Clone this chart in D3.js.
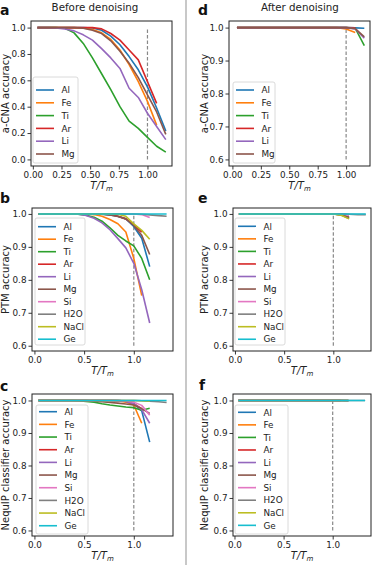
<!DOCTYPE html>
<html><head><meta charset="utf-8">
<script src="https://cdn.jsdelivr.net/npm/d3@7"></script>
<style>body{margin:0;background:#fff} svg{display:block}</style>
</head><body><svg id="c" width="374" height="565"></svg>
<script>
// ---------- data ----------
const T  = [0.04,0.12,0.20,0.28,0.36,0.44,0.52,0.60,0.68,0.76,0.84,0.92,1.00,1.08,1.16];
const TL = [0.04,0.12,0.20,0.28,0.36,0.44,0.52,0.60,0.68,0.76,0.84,0.92,1.00,1.08,1.16,1.25,1.33];
const elems6  = ["Al","Fe","Ti","Ar","Li","Mg"];
const elems10 = ["Al","Fe","Ti","Ar","Li","Mg","Si","H2O","NaCl","Ge"];
const palette = ["#1f77b4","#ff7f0e","#2ca02c","#d62728","#9467bd","#8c564b","#e377c2","#7f7f7f","#bcbd22","#17becf"];
const xTicksFine   = [0,0.25,0.5,0.75,1.0];
const xTicksCoarse = [0,0.5,1.0];
const yTicksFull   = [0,0.2,0.4,0.6,0.8,1.0];
const yTicksZoom   = [0.6,0.7,0.8,0.9,1.0];

// a: a-CNA accuracy, before denoising
const acnaBefore = {
  Al:[1,1,1,1,1,1,0.997,0.98,0.935,0.87,0.78,0.68,0.55,0.39,0.215],
  Fe:[1,1,1,1,1,0.998,0.985,0.96,0.91,0.83,0.72,0.59,0.44,0.26],
  Ti:[1,1,1,0.995,0.96,0.88,0.77,0.65,0.53,0.40,0.29,0.235,0.167,0.10,0.055],
  Ar:[1,1,1,1,1,1,1,0.99,0.955,0.905,0.83,0.755,0.59,0.425],
  Li:[1,1,0.998,0.99,0.975,0.945,0.905,0.84,0.77,0.69,0.54,0.47,0.35,0.25,0.15],
  Mg:[1,1,1,1,1,0.995,0.98,0.955,0.90,0.82,0.73,0.62,0.49,0.36,0.19]
};
// b: PTM accuracy, before denoising
const ptmBefore = {
  Al:[1,1,1,1,1,1,1,1,0.999,0.997,0.993,0.985,0.962,0.926,0.84],
  Fe:[1,1,1,1,1,1,1,0.998,0.993,0.983,0.97,0.945,0.865,0.752],
  Ti:[1,1,1,1,1,0.999,0.996,0.99,0.978,0.958,0.935,0.918,0.903,0.865,0.80],
  Ar:[1,1,1,1,1,1,1,1,1,0.998,0.993,0.985,0.968,0.945],
  Li:[1,1,1,1,1,0.999,0.995,0.987,0.973,0.952,0.925,0.897,0.85,0.77,0.669],
  Mg:[1,1,1,1,1,1,1,1,0.999,0.997,0.992,0.985,0.965,0.935,0.877],
  Si:[1,1,1,1,1,1,1,1,1,1,1,1,1,0.998,0.989],
  H2O:[1,1,1,1,1,1,1,1,1,1,1,1,1,0.999,0.997,0.995,0.993],
  NaCl:[1,1,1,1,1,1,1,1,1,1,0.999,0.993,0.97,0.95,0.923],
  Ge:[1,1,1,1,1,1,1,1,1,1,1,1,1,1,1,1,1]
};
// c: NequIP classifier accuracy, before denoising
const nequipBefore = {
  Al:[1,1,1,1,1,1,1,1,1,1,1,0.998,0.99,0.968,0.872],
  Fe:[1,1,1,1,1,1,1,1,1,1,0.999,0.995,0.986,0.93],
  Ti:[1,1,1,1,1,0.999,0.997,0.995,0.99,0.986,0.983,0.98,0.978,0.97,0.976],
  Ar:[1,1,1,1,1,1,1,1,1,1,1,0.998,0.99,0.975],
  Li:[1,1,1,1,1,1,1,1,1,1,0.999,0.997,0.99,0.972,0.93],
  Mg:[1,1,1,1,1,1,1,0.998,0.996,0.994,0.992,0.989,0.986,0.975,0.96],
  Si:[1,1,1,1,1,1,1,1,1,1,1,0.999,0.995,0.985,0.955],
  H2O:[1,1,1,1,1,1,1,1,1,1,1,1,1,0.999,0.998,0.996,0.994],
  NaCl:[1,1,1,1,1,1,1,1,1,1,1,1,1,0.999,0.998],
  Ge:[1,1,1,1,1,1,1,1,1,1,1,1,1,1,1,1,1]
};
// d: a-CNA accuracy, after denoising
const acnaAfter = {
  Al:[1,1,1,1,1,1,1,1,1,1,1,1,1,0.999,0.998],
  Fe:[1,1,1,1,1,1,1,1,1,1,1,1,0.996,0.985],
  Ti:[1,1,1,1,1,1,1,1,1,1,1,1,1,0.998,0.945],
  Ar:[1,1,1,1,1,1,1,1,1,1,1,1,1,0.999],
  Li:[1,1,1,1,1,1,1,1,1,1,1,1,1,0.996,0.968],
  Mg:[1,1,1,1,1,1,1,1,1,1,1,1,1,0.997,0.972]
};
// e: PTM accuracy, after denoising
const ptmAfter = {
  Al:[1,1,1,1,1,1,1,1,1,1,1,1,1,1,0.998],
  Fe:[1,1,1,1,1,1,1,1,1,1,1,1,1,0.997,0.99],
  Ti:[1,1,1,1,1,1,1,1,1,1,1,1,1,0.998,0.987],
  Ar:[1,1,1,1,1,1,1,1,1,1,1,1,1,0.999],
  Li:[1,1,1,1,1,1,1,1,1,1,1,1,1,0.997,0.986],
  Mg:[1,1,1,1,1,1,1,1,1,1,1,1,1,0.998,0.99],
  Si:[1,1,1,1,1,1,1,1,1,1,1,1,1,1,0.997],
  H2O:[1,1,1,1,1,1,1,1,1,1,1,1,1,1,0.999,0.998,0.998],
  NaCl:[1,1,1,1,1,1,1,1,1,1,1,1,1,0.996,0.985],
  Ge:[1,1,1,1,1,1,1,1,1,1,1,1,1,1,1,1,1]
};
// f: NequIP classifier accuracy, after denoising
const nequipAfter = {
  Al:[1,1,1,1,1,1,1,1,1,1,1,1,1,1,0.999],
  Fe:[1,1,1,1,1,1,1,1,1,1,1,1,1,1],
  Ti:[1,1,1,1,1,1,1,1,1,1,1,1,1,1,1],
  Ar:[1,1,1,1,1,1,1,1,1,1,1,1,1,1],
  Li:[1,1,1,1,1,1,1,1,1,1,1,1,1,1,1],
  Mg:[1,1,1,1,1,1,1,1,1,1,1,1,1,1,1],
  Si:[1,1,1,1,1,1,1,1,1,1,1,1,1,1,1],
  H2O:[1,1,1,1,1,1,1,1,1,1,1,1,1,1,1,1,1],
  NaCl:[1,1,1,1,1,1,1,1,1,1,1,1,1,1,1],
  Ge:[1,1,1,1,1,1,1,1,1,1,1,1,1,1,1,1,1]
};

// ---------- layout ----------
const panels = [
  {id:"a", data:acnaBefore, elems:elems6, box:{l:31,r:172,t:21,b:166}, xd:[-0.016,1.214], yd:[-0.05,1.05],
   xt:xTicksFine, xf:".2f", yt:yTicksFull, ylabel:"a-CNA accuracy", vline:[0,1], ylx:9, lx:0, ly:15,
   lg:{x:33,y:77,w:45,h:86,r0:90,dy:12.8}},
  {id:"b", data:ptmBefore, elems:elems10, box:{l:32,r:173,t:208,b:351}, xd:[-0.0245,1.3945], yd:[0.584,1.018],
   xt:xTicksCoarse, xf:".1f", yt:yTicksZoom, ylabel:"PTM accuracy", vline:[0.6,1], ylx:9, lx:0, ly:203,
   lg:{x:35,y:218,w:50,h:127,r0:226.7,dy:12.5}},
  {id:"c", data:nequipBefore, elems:elems10, box:{l:32,r:173,t:394,b:536}, xd:[-0.0245,1.3945], yd:[0.583,1.02],
   xt:xTicksCoarse, xf:".1f", yt:yTicksZoom, ylabel:"NequIP classifier accuracy", vline:[0.6,1], ylx:9, lx:0, ly:391,
   lg:{x:36,y:405,w:52,h:129,r0:411.7,dy:12.67}},
  {id:"d", data:acnaAfter, elems:elems6, box:{l:229,r:370,t:21,b:166}, xd:[-0.03,1.21], yd:[0.58,1.02],
   xt:xTicksFine, xf:".2f", yt:yTicksZoom, ylabel:"a-CNA accuracy", vline:[0.6,1], ylx:208, lx:198, ly:15,
   lg:{x:233,y:82,w:42,h:81,r0:90,dy:12.8}},
  {id:"e", data:ptmAfter, elems:elems10, box:{l:233,r:371,t:208,b:351}, xd:[-0.02,1.383], yd:[0.584,1.018],
   xt:xTicksCoarse, xf:".1f", yt:yTicksZoom, ylabel:"PTM accuracy", vline:[0.6,1], ylx:208, lx:198, ly:203,
   lg:{x:235,y:218,w:50,h:127,r0:226.3,dy:12.55}},
  {id:"f", data:nequipAfter, elems:elems10, box:{l:233,r:371,t:394,b:536}, xd:[-0.015,1.39], yd:[0.583,1.02],
   xt:xTicksCoarse, xf:".1f", yt:yTicksZoom, ylabel:"NequIP classifier accuracy", vline:[0.6,1], ylx:208, lx:199, ly:390,
   lg:{x:235,y:405,w:53,h:129,r0:412.3,dy:12.56}}
];

const FONT = "DejaVu Sans, sans-serif";
const TICK_FS = 8.8, LEG_FS = 8.8, LAB_FS = 10;
const svg = d3.select("#c").style("font-family", FONT);
svg.append("rect").attr("width",374).attr("height",565).attr("fill","#fff");

// separator between columns
svg.append("line").attr("x1",186).attr("x2",186).attr("y1",0).attr("y2",565)
  .attr("stroke","#c8c8c8").attr("stroke-width",2);

// column titles
svg.append("text").attr("x",95).attr("y",11).attr("text-anchor","middle")
  .attr("font-size",10.3).attr("fill","#222").text("Before denoising");
svg.append("text").attr("x",300).attr("y",11).attr("text-anchor","middle")
  .attr("font-size",10.3).attr("fill","#222").text("After denoising");

panels.forEach(p => {
  const x = d3.scaleLinear().domain(p.xd).range([p.box.l, p.box.r]);
  const y = d3.scaleLinear().domain(p.yd).range([p.box.b, p.box.t]);
  const g = svg.append("g");

  // axes
  const xa = g.append("g").attr("transform",`translate(0,${p.box.b})`)
    .call(d3.axisBottom(x).tickValues(p.xt).tickFormat(d3.format(p.xf)).tickSizeOuter(0).tickSize(3.5).tickPadding(2));
  const ya = g.append("g").attr("transform",`translate(${p.box.l},0)`)
    .call(d3.axisLeft(y).tickValues(p.yt).tickFormat(d3.format(".1f")).tickSizeOuter(0).tickSize(3.5).tickPadding(2));
  [xa,ya].forEach(a => {
    a.select(".domain").remove();
    a.selectAll("line").attr("stroke","#222").attr("stroke-width",0.9);
    a.selectAll("text").attr("font-size",TICK_FS).attr("fill","#222").attr("font-family",FONT);
  });

  // dashed vertical line at T/Tm = 1
  g.append("line").attr("x1",x(1)).attr("x2",x(1)).attr("y1",y(p.vline[0])).attr("y2",y(p.vline[1]))
    .attr("stroke","#888").attr("stroke-width",1.2).attr("stroke-dasharray","3.5,2");

  // curves
  const line = d3.line().x(d => x(d[0])).y(d => y(d[1]));
  p.elems.forEach((el, i) => {
    const vals = p.data[el];
    const xs = vals.length > T.length ? TL : T;
    const pts = vals.map((v, k) => [xs[k], v]);
    g.append("path").attr("d", line(pts)).attr("fill","none")
      .attr("stroke", palette[i]).attr("stroke-width",1.6).attr("stroke-linejoin","round");
  });

  // frame
  g.append("rect").attr("x",p.box.l).attr("y",p.box.t).attr("width",p.box.r-p.box.l).attr("height",p.box.b-p.box.t)
    .attr("fill","none").attr("stroke","#222").attr("stroke-width",1);

  // legend
  const L = p.lg;
  g.append("rect").attr("x",L.x).attr("y",L.y).attr("width",L.w).attr("height",L.h).attr("rx",2)
    .attr("fill","#fff").attr("fill-opacity",0.85).attr("stroke","#d0d0d0").attr("stroke-width",0.8);
  p.elems.forEach((el, i) => {
    const yy = L.r0 + i*L.dy;
    g.append("line").attr("x1",L.x+3).attr("x2",L.x+21).attr("y1",yy).attr("y2",yy)
      .attr("stroke",palette[i]).attr("stroke-width",1.6);
    g.append("text").attr("x",L.x+28.5).attr("y",yy+3.2).attr("font-size",LEG_FS).attr("fill","#222").text(el);
  });

  // x label T/T_m
  const xl = g.append("text").attr("x",(p.box.l+p.box.r)/2).attr("y",p.box.b+22.5)
    .attr("text-anchor","middle").attr("font-size",LAB_FS).attr("font-style","italic").attr("fill","#222");
  xl.append("tspan").text("T/T");
  xl.append("tspan").attr("font-size",7).attr("dy",2).text("m");

  // y label
  g.append("text").attr("transform",`translate(${p.ylx},${(p.box.t+p.box.b)/2}) rotate(-90)`)
    .attr("text-anchor","middle").attr("font-size",LAB_FS).attr("fill","#222").text(p.ylabel);

  // panel letter
  g.append("text").attr("x",p.lx).attr("y",p.ly).attr("font-size",14).attr("font-weight","bold")
    .attr("fill","#111").text(p.id);
});
</script></body></html>
